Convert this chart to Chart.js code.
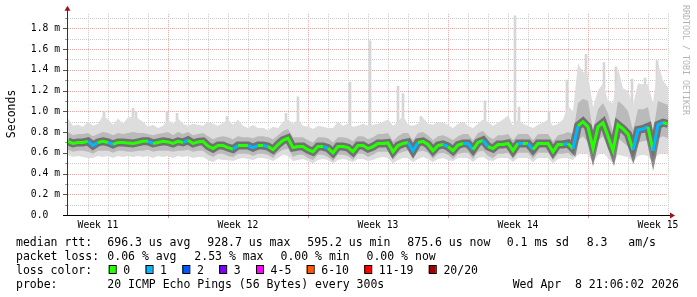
<!DOCTYPE html>
<html>
<head>
<meta charset="utf-8">
<script src="https://cdn.jsdelivr.net/npm/chart.js@4.4.1/dist/chart.umd.min.js"></script>
<style>
  html, body { margin: 0; padding: 0; background: #fff; }
  canvas { display: block; }
</style>
</head>
<body>
<canvas id="chart" width="697" height="297"></canvas>
<script>
/* data: one sample every 6 hours over 30 days, values in ms */
const sampleStep = 0.25;
const weekLabels = ["Week 11", "Week 12", "Week 13", "Week 14", "Week 15"];
const weekDays = [1.5, 8.5, 15.5, 22.5, 29.5];
const weekStartDays = [5, 12, 19, 26];

const median = [
  0.71, 0.69, 0.70, 0.70, 0.71, 0.67, 0.70, 0.71, 0.70, 0.68,
  0.70, 0.70, 0.695, 0.69, 0.70, 0.71, 0.71, 0.69, 0.70, 0.71,
  0.705, 0.69, 0.71, 0.70, 0.72, 0.69, 0.705, 0.71, 0.665, 0.64,
  0.67, 0.67, 0.65, 0.635, 0.67, 0.67, 0.67, 0.65, 0.67, 0.67,
  0.66, 0.63, 0.68, 0.72, 0.74, 0.65, 0.66, 0.66, 0.63, 0.61,
  0.66, 0.66, 0.645, 0.60, 0.66, 0.66, 0.65, 0.61, 0.67, 0.67,
  0.64, 0.66, 0.69, 0.69, 0.695, 0.61, 0.67, 0.69, 0.70, 0.62,
  0.70, 0.71, 0.68, 0.62, 0.67, 0.68, 0.66, 0.62, 0.675, 0.69,
  0.69, 0.63, 0.70, 0.72, 0.66, 0.64, 0.68, 0.68, 0.69, 0.62,
  0.69, 0.69, 0.69, 0.63, 0.69, 0.69, 0.69, 0.61, 0.68, 0.68,
  0.69, 0.64, 0.86, 0.90, 0.85, 0.64, 0.85, 0.89, 0.76, 0.62,
  0.87, 0.83, 0.78, 0.63, 0.82, 0.83, 0.85, 0.62, 0.87, 0.89,
  0.88
];
const lossIdx = [
  0, 0, 0, 0, 0, 1, 1, 0, 0, 1,
  0, 0, 0, 0, 0, 0, 0, 1, 0, 0,
  0, 0, 0, 0, 1, 0, 0, 0, 0, 0,
  0, 0, 0, 0, 1, 0, 0, 1, 1, 0,
  1, 0, 0, 0, 0, 0, 0, 0, 0, 0,
  0, 0, 1, 0, 0, 0, 0, 0, 0, 0,
  0, 0, 0, 0, 0, 0, 0, 0, 0, 1,
  1, 0, 0, 0, 0, 0, 1, 0, 0, 0,
  1, 1, 0, 0, 1, 0, 0, 0, 0, 0,
  0, 1, 0, 1, 0, 0, 0, 0, 0, 0,
  1, 0, 1, 0, 0, 0, 0, 0, 0, 0,
  0, 0, 0, 0, 1, 1, 1, 0, 1, 1,
  0
];
const smokeMax = [
  0.93, 0.86, 0.87, 0.85, 0.90, 0.86, 0.88, 0.96, 0.92, 0.87,
  0.93, 0.88, 0.94, 0.95, 0.93, 0.90, 0.85, 0.87, 0.84, 0.86,
  0.92, 0.88, 0.93, 0.88, 0.86, 0.88, 0.87, 0.86, 0.90, 0.88,
  0.86, 0.89, 0.92, 0.87, 0.92, 0.86, 0.84, 0.87, 0.84, 0.84,
  0.82, 0.85, 0.84, 0.90, 0.92, 0.88, 0.92, 0.86, 0.85, 0.83,
  0.86, 0.85, 0.84, 0.84, 0.90, 0.86, 0.88, 0.85, 0.86, 0.88,
  0.86, 0.87, 0.88, 0.90, 0.92, 0.86, 0.90, 0.96, 0.87, 0.86,
  0.88, 0.94, 0.88, 0.87, 0.90, 0.89, 0.87, 0.84, 0.88, 0.90,
  0.86, 0.84, 0.88, 0.92, 0.90, 0.86, 0.89, 0.92, 0.96, 0.86,
  0.92, 0.88, 0.86, 0.84, 0.87, 0.89, 0.92, 0.86, 0.88, 0.92,
  1.05, 1.00, 1.46, 1.38, 1.36, 1.04, 1.20, 1.27, 1.10, 1.08,
  1.42, 1.22, 1.20, 1.06, 1.27, 1.26, 1.26, 1.08, 1.46, 1.30,
  1.23
];
const smokeHi = [
  0.80, 0.77, 0.78, 0.78, 0.79, 0.76, 0.78, 0.80, 0.79, 0.77,
  0.79, 0.78, 0.79, 0.80, 0.79, 0.79, 0.78, 0.77, 0.78, 0.79,
  0.80, 0.77, 0.80, 0.78, 0.80, 0.77, 0.78, 0.79, 0.76, 0.73,
  0.75, 0.76, 0.75, 0.73, 0.76, 0.75, 0.75, 0.74, 0.76, 0.76,
  0.75, 0.73, 0.77, 0.81, 0.83, 0.75, 0.75, 0.75, 0.72, 0.70,
  0.75, 0.75, 0.74, 0.70, 0.75, 0.75, 0.74, 0.71, 0.76, 0.76,
  0.73, 0.75, 0.78, 0.78, 0.79, 0.71, 0.76, 0.79, 0.79, 0.72,
  0.79, 0.80, 0.77, 0.72, 0.76, 0.77, 0.75, 0.72, 0.76, 0.78,
  0.78, 0.72, 0.79, 0.81, 0.76, 0.73, 0.77, 0.77, 0.78, 0.72,
  0.78, 0.78, 0.78, 0.72, 0.78, 0.78, 0.78, 0.71, 0.77, 0.78,
  0.80, 0.78, 1.08, 1.12, 1.10, 0.82, 1.02, 1.08, 0.98, 0.80,
  1.10, 1.06, 1.00, 0.82, 1.02, 1.02, 1.04, 0.80, 1.10, 1.08,
  1.06
];
const smokeLo = [
  0.63, 0.61, 0.62, 0.62, 0.61, 0.59, 0.62, 0.62, 0.62, 0.60,
  0.62, 0.62, 0.61, 0.61, 0.62, 0.62, 0.63, 0.61, 0.62, 0.62,
  0.62, 0.61, 0.62, 0.62, 0.63, 0.61, 0.62, 0.62, 0.58, 0.56,
  0.59, 0.59, 0.57, 0.56, 0.59, 0.59, 0.59, 0.57, 0.59, 0.59,
  0.58, 0.55, 0.60, 0.63, 0.64, 0.56, 0.58, 0.58, 0.55, 0.53,
  0.58, 0.58, 0.56, 0.52, 0.58, 0.58, 0.57, 0.53, 0.59, 0.59,
  0.56, 0.58, 0.61, 0.61, 0.61, 0.53, 0.59, 0.61, 0.62, 0.54,
  0.61, 0.62, 0.60, 0.54, 0.59, 0.60, 0.58, 0.54, 0.59, 0.60,
  0.60, 0.54, 0.61, 0.62, 0.57, 0.55, 0.59, 0.59, 0.60, 0.54,
  0.60, 0.60, 0.60, 0.54, 0.60, 0.60, 0.60, 0.53, 0.59, 0.59,
  0.60, 0.56, 0.72, 0.76, 0.70, 0.56, 0.72, 0.76, 0.64, 0.55,
  0.74, 0.70, 0.66, 0.55, 0.70, 0.71, 0.72, 0.55, 0.74, 0.76,
  0.74
];
const smokeMin = [
  0.58, 0.56, 0.57, 0.56, 0.55, 0.55, 0.57, 0.56, 0.57, 0.55,
  0.57, 0.56, 0.57, 0.56, 0.57, 0.56, 0.57, 0.55, 0.57, 0.56,
  0.57, 0.55, 0.57, 0.56, 0.57, 0.55, 0.56, 0.56, 0.53, 0.51,
  0.54, 0.53, 0.53, 0.52, 0.54, 0.55, 0.54, 0.53, 0.55, 0.55,
  0.54, 0.52, 0.55, 0.58, 0.57, 0.52, 0.53, 0.54, 0.52, 0.50,
  0.53, 0.54, 0.53, 0.50, 0.53, 0.54, 0.53, 0.51, 0.54, 0.54,
  0.52, 0.53, 0.55, 0.56, 0.55, 0.50, 0.53, 0.55, 0.55, 0.51,
  0.54, 0.56, 0.54, 0.51, 0.54, 0.55, 0.53, 0.52, 0.55, 0.55,
  0.55, 0.51, 0.55, 0.56, 0.53, 0.52, 0.55, 0.55, 0.55, 0.51,
  0.55, 0.55, 0.55, 0.51, 0.55, 0.55, 0.55, 0.50, 0.54, 0.55,
  0.55, 0.53, 0.58, 0.60, 0.58, 0.51, 0.58, 0.60, 0.55, 0.50,
  0.58, 0.57, 0.56, 0.51, 0.57, 0.58, 0.57, 0.51, 0.58, 0.60,
  0.58
];
/* single outlier pings sticking out of the smoke */
const spikeDays = [1.8, 3.25, 3.4, 4.95, 5.45, 7.95, 10.9, 11.5, 14.1, 15.1, 16.5, 16.75,
  17.65, 20.85, 22.35, 22.55, 24.05, 24.95, 25.9, 26.8, 27.4, 28.2, 28.85, 29.45];
const spikeTops = [1.00, 1.03, 1.00, 1.00, 0.98, 0.95, 0.98, 1.14, 1.28, 1.68, 1.24, 1.17,
  0.95, 1.10, 1.92, 1.04, 1.00, 1.30, 1.55, 1.47, 1.43, 1.31, 1.32, 1.49];

const lossLabels = ["0", "1", "2", "3", "4-5", "6-10", "11-19", "20/20"];
const lossColors = ["#26ff00", "#00b8ff", "#0059ff", "#7e00ff", "#ff00ff", "#ff5500", "#ff0000", "#a10000"];

const mono = "DejaVu Sans Mono";
const pts = arr => arr.map((v, i) => ({ x: i * sampleStep, y: v }));

/* grid behind the smoke */
const rrdGrid = {
  id: "rrdGrid",
  beforeDatasetsDraw(chart) {
    const { ctx, chartArea: a, scales: { x, y } } = chart;
    ctx.save();
    ctx.lineWidth = 1;
    ctx.setLineDash([1, 1]);
    for (let d = 1; d <= 30; d++) {
      const px = Math.round(x.getPixelForValue(d)) + 0.5;
      ctx.strokeStyle = weekStartDays.includes(d) ? "#eaa2a2" : "#cacaca";
      ctx.beginPath(); ctx.moveTo(px, a.top); ctx.lineTo(px, a.bottom); ctx.stroke();
    }
    y.ticks.forEach(t => {
      if (t.value === 0) return;
      const py = Math.round(y.getPixelForValue(t.value)) + 0.5;
      ctx.strokeStyle = t.label ? "#eaa2a2" : "#cacaca";
      ctx.beginPath(); ctx.moveTo(a.left, py); ctx.lineTo(a.right, py); ctx.stroke();
    });
    ctx.restore();
  }
};

/* axes, arrows and the text block under the graph */
const rrdFrame = {
  id: "rrdFrame",
  afterDraw(chart) {
    const { ctx, chartArea: a, scales: { x, y } } = chart;
    ctx.save();
    ctx.lineWidth = 1;
    // y tick marks
    y.ticks.forEach(t => {
      const py = Math.round(y.getPixelForValue(t.value)) + 0.5;
      ctx.strokeStyle = t.label ? "#555" : "#999";
      ctx.beginPath(); ctx.moveTo(t.label ? a.left - 5 : a.left - 3, py); ctx.lineTo(a.left, py); ctx.stroke();
    });
    weekStartDays.forEach(d => {
      const px = Math.round(x.getPixelForValue(d)) + 0.5;
      ctx.strokeStyle = "#d09090";
      ctx.beginPath(); ctx.moveTo(px, a.bottom); ctx.lineTo(px, a.bottom + 3); ctx.stroke();
    });
    // axes
    const ax = a.left - 0.5, ay = a.bottom + 0.5;
    ctx.strokeStyle = "#333";
    ctx.beginPath(); ctx.moveTo(ax, ay); ctx.lineTo(ax, a.top - 4); ctx.stroke();
    ctx.strokeStyle = "#000";
    ctx.beginPath(); ctx.moveTo(a.left - 5, ay); ctx.lineTo(a.right + 3, ay); ctx.stroke();
    ctx.fillStyle = "#a01010";
    ctx.beginPath(); ctx.moveTo(ax - 3, a.top - 3); ctx.lineTo(ax + 3, a.top - 3); ctx.lineTo(ax, a.top - 8); ctx.closePath(); ctx.fill();
    ctx.beginPath(); ctx.moveTo(a.right + 2, ay - 3); ctx.lineTo(a.right + 2, ay + 3); ctx.lineTo(a.right + 7, ay); ctx.closePath(); ctx.fill();

    // axis title
    ctx.fillStyle = "#000";
    ctx.font = "11.5px '" + mono + "'";
    ctx.save();
    ctx.translate(15, (a.top + a.bottom) / 2 - 0.5);
    ctx.rotate(-Math.PI / 2);
    ctx.textAlign = "center";
    ctx.textBaseline = "alphabetic";
    ctx.fillText("Seconds", 0, 0);
    ctx.restore();

    // watermark
    ctx.save();
    ctx.fillStyle = "#b4b4b4";
    ctx.font = "8.3px '" + mono + "'";
    ctx.translate(682.5, 5);
    ctx.rotate(Math.PI / 2);
    ctx.textAlign = "left";
    ctx.textBaseline = "alphabetic";
    ctx.fillText("RRDTOOL / TOBI OETIKER", 0, 0);
    ctx.restore();

    // legend block
    ctx.font = "11.5px '" + mono + "'";
    ctx.textAlign = "left";
    ctx.textBaseline = "alphabetic";
    ctx.fillStyle = "#000";
    const rows = [
      [245.5, [[16, "median rtt:"], [107.3, "696.3 us avg"], [207.3, "928.7 us max"], [307.3, "595.2 us min"],
               [407.3, "875.6 us now"], [506.7, "0.1 ms sd"], [586.7, "8.3"], [628.3, "am/s"]]],
      [259.5, [[16, "packet loss:"], [107.3, "0.06 % avg"], [194.3, "2.53 % max"], [280.5, "0.00 % min"], [366.5, "0.00 % now"]]],
      [273.5, [[16, "loss color:"]]],
      [287.5, [[16, "probe:"], [107.3, "20 ICMP Echo Pings (56 Bytes) every 300s"], [512.7, "Wed Apr  8 21:06:02 2026"]]]
    ];
    rows.forEach(([by, items]) => items.forEach(([tx, s]) => ctx.fillText(s, tx, by)));
    let sx = 108.7;
    lossLabels.forEach((lab, i) => {
      ctx.fillStyle = lossColors[i];
      ctx.fillRect(sx, 265, 7, 8);
      ctx.strokeStyle = "#000";
      ctx.strokeRect(sx + 0.5, 265.5, 7, 8);
      ctx.fillStyle = "#000";
      ctx.fillText(lab, sx + 14.6, 273.5);
      sx += 14.6 + ctx.measureText(lab).width + 15.3;
    });
    ctx.restore();
  }
};

const bandLine = { pointRadius: 0, borderWidth: 0, borderColor: "transparent", tension: 0 };

new Chart(document.getElementById("chart"), {
  type: "line",
  data: {
    datasets: [
      {
        label: "median", data: pts(median), order: 1, pointRadius: 0, borderWidth: 3, tension: 0,
        borderColor: lossColors[0], borderJoinStyle: "miter",
        segment: { borderColor: c => lossColors[lossIdx[c.p1DataIndex]] }
      },
      { label: "core", data: pts(median), order: 2, pointRadius: 0, borderWidth: 8, tension: 0, borderColor: "rgba(40,40,40,0.5)" },
      { ...bandLine, label: "hi", data: pts(smokeHi), order: 3, fill: { target: 3 }, backgroundColor: "#bababa" },
      { ...bandLine, label: "lo", data: pts(smokeLo), order: 3, fill: false },
      { ...bandLine, label: "max", data: pts(smokeMax), order: 5, fill: { target: 5 }, backgroundColor: "#dddddd" },
      { ...bandLine, label: "min", data: pts(smokeMin), order: 5, fill: false },
      {
        type: "bar", label: "spikes", order: 6, backgroundColor: "#d6d6d6", barThickness: 2,
        data: spikeDays.map((d, i) => ({ x: d, y: [0.75, spikeTops[i]] }))
      }
    ]
  },
  options: {
    responsive: false,
    animation: false,
    devicePixelRatio: 1,
    layout: { padding: { left: 0, top: 13, right: 29, bottom: 0 } },
    plugins: { legend: { display: false }, tooltip: { enabled: false } },
    scales: {
      x: {
        type: "linear", min: 0, max: 30, offset: false,
        grid: { display: false, drawTicks: false }, border: { display: false },
        afterFit: s => { s.height = 82; },
        afterBuildTicks: s => { s.ticks = weekDays.map(v => ({ value: v })); },
        ticks: {
          autoSkip: false, maxRotation: 0, padding: 5, color: "#000",
          font: { family: mono, size: 9.7 },
          callback: (v, i) => weekLabels[i]
        }
      },
      y: {
        min: 0, max: 1.94,
        grid: { display: false, drawTicks: false }, border: { display: false },
        afterFit: s => { s.width = 68; },
        ticks: {
          stepSize: 0.1, includeBounds: false, autoSkip: false, padding: 8, color: "#000",
          font: { family: mono, size: 9.7 },
          callback: v => {
            const r = Math.round(v * 10);
            if (r % 2) return "";
            return r === 0 ? "0.0  " : (r / 10).toFixed(1) + " m";
          }
        }
      }
    }
  },
  plugins: [rrdGrid, rrdFrame]
});
</script>
</body>
</html>
